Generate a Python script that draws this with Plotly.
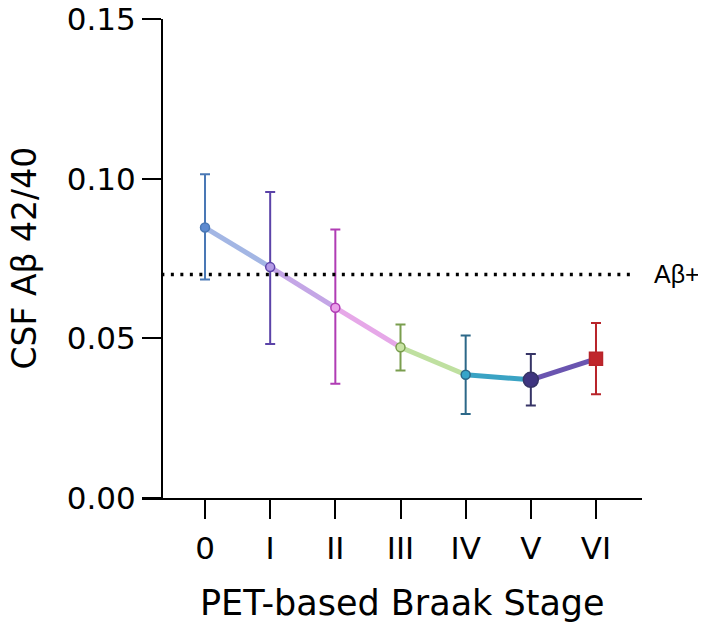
import plotly.graph_objects as go

# Braak stages and CSF Abeta 42/40 (mean with lower/upper error)
stages = ["0", "I", "II", "III", "IV", "V", "VI"]
stage_pos = [0, 1, 2, 3, 4, 5, 6]
means = [0.0847, 0.0723, 0.0596, 0.0472, 0.0386, 0.0370, 0.0436]
upper = [0.1014, 0.0958, 0.0841, 0.0543, 0.0509, 0.0451, 0.0548]
lower = [0.0684, 0.0482, 0.0358, 0.0399, 0.0263, 0.0290, 0.0325]
cutoff = 0.07
y_ticks = [0, 0.05, 0.10, 0.15]

bar_colors = ["#4a78b5", "#5b43a8", "#b03cb4", "#7a9e4e", "#2c6888", "#363466", "#b8242a"]
marker_colors = ["#5d8ad0", "#b49ae6", "#eaa0ea", "#c8e4a4", "#37a5c9", "#3f3580", "#c0262c"]
segment_colors = ["#a3b6e4", "#c4a6e6", "#e6a8e8", "#bfe0a0", "#3aa3c4", "#6a55b0"]
marker_symbols = ["circle", "circle", "circle", "circle", "circle", "circle", "square"]
marker_sizes = [9, 9, 9, 9, 9, 15, 13]

FONT = "DejaVu Sans, sans-serif"
LABEL_FONT = "Liberation Sans, Arial, sans-serif"

fig = go.Figure()

# connecting line, one colour per segment
for i in range(len(stage_pos) - 1):
    fig.add_trace(go.Scatter(
        x=stage_pos[i:i + 2], y=means[i:i + 2],
        mode="lines",
        line=dict(color=segment_colors[i], width=5),
        hoverinfo="skip", showlegend=False,
    ))

# error bars
for i in range(len(stage_pos)):
    fig.add_trace(go.Scatter(
        x=[stage_pos[i]], y=[means[i]],
        mode="markers",
        marker=dict(size=1, color="rgba(0,0,0,0)"),
        error_y=dict(
            type="data", symmetric=False,
            array=[upper[i] - means[i]],
            arrayminus=[means[i] - lower[i]],
            color=bar_colors[i], thickness=2, width=5,
        ),
        hoverinfo="skip", showlegend=False,
    ))

# markers on top
fig.add_trace(go.Scatter(
    x=stage_pos, y=means,
    mode="markers",
    marker=dict(color=marker_colors, size=marker_sizes, symbol=marker_symbols,
                opacity=1, line=dict(color=bar_colors, width=1.5)),
    showlegend=False,
))

# dotted Abeta+ threshold
fig.add_shape(type="line", xref="x", yref="y",
              x0=-0.67, x1=6.6, y0=cutoff, y1=cutoff,
              line=dict(color="black", width=3.5, dash="3px,6.5px"))
fig.add_annotation(text="Aβ+", xref="paper", yref="y", x=1.02, y=cutoff,
                   xanchor="left", yanchor="middle", showarrow=False,
                   font=dict(family=LABEL_FONT, size=25, color="black"))

# axis titles
fig.add_annotation(text="CSF Aβ 42/40", xref="paper", yref="paper",
                   x=-0.236, y=0.5, textangle=-90, showarrow=False,
                   xanchor="center", yanchor="middle",
                   font=dict(family=FONT, size=33, color="black"))
fig.add_annotation(text="PET-based Braak Stage", xref="paper", yref="paper",
                   x=0.521, y=-0.219, showarrow=False,
                   xanchor="center", yanchor="middle",
                   font=dict(family=FONT, size=35, color="black"))

# the page body adds an 8px margin, so the figure is sized to fit the window
fig.update_layout(
    width=698, height=624,
    margin=dict(l=134, r=64, t=11, b=134),
    plot_bgcolor="white", paper_bgcolor="white",
    showlegend=False,
    xaxis=dict(
        range=[-0.967, 6.706],
        tickvals=stage_pos, ticktext=stages,
        showline=True, linecolor="black", linewidth=2,
        ticks="outside", ticklen=19, tickwidth=2, tickcolor="black",
        showgrid=False, zeroline=False, automargin=False,
        ticklabelstandoff=3, ticklabeloverflow="allow",
        tickfont=dict(family=FONT, size=31, color="black"),
    ),
    yaxis=dict(
        range=[0, 0.15],
        anchor="free", position=0.04,
        tickvals=y_ticks, tickformat=".2f",
        showline=True, linecolor="black", linewidth=2,
        ticks="outside", ticklen=19, tickwidth=2, tickcolor="black",
        showgrid=False, zeroline=False, automargin=False,
        ticklabelstandoff=0, ticklabeloverflow="allow",
        tickfont=dict(family=FONT, size=31, color="black"),
    ),
)

fig.write_html("out.html")
